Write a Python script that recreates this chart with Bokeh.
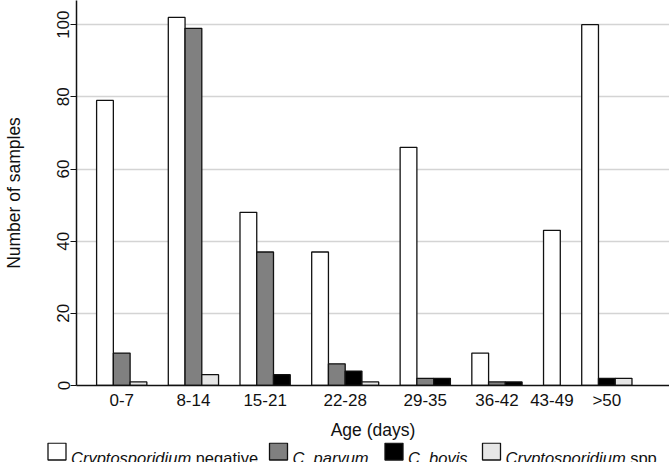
from bokeh.plotting import figure
from bokeh.models import Range1d, FixedTicker, ColumnDataSource
from bokeh.embed import file_html
from bokeh.resources import INLINE
from bokeh.core.properties import value

# ---- data ----
age_groups = ["0-7", "8-14", "15-21", "22-28", "29-35", "36-42", "43-49", ">50"]
crypto_negative = [79, 102, 48, 37, 66, 9, 43, 100]
c_parvum = [9, 99, 37, 6, 2, 1, 0, 0]
c_bovis = [0, 0, 3, 4, 2, 1, 0, 2]
crypto_spp = [1, 3, 0, 1, 0, 0, 0, 2]
y_ticks = [0, 20, 40, 60, 80, 100]
legend_italic = ["Cryptosporidium", "C. parvum", "C. bovis", "Cryptosporidium"]
legend_plain = ["negative", "", "", "spp."]

# ---- styles / layout ----
FONT = "Liberation Sans"
TXT = "#111111"
series_colors = ["#ffffff", "#808080", "#000000", "#e6e6e6"]
series_values = [crypto_negative, c_parvum, c_bovis, crypto_spp]
GROUP_GAP = 1.28  # gap between age groups, in bar widths

W = 669
H_MAIN, H_LEG = 442, 20
ROOT_GAP = 6      # inline gap the browser leaves between the two roots

# ---- bar layout: zero-count bars are omitted and the rest packed ----
lefts, rights, tops, fills = [], [], [], []
centers = []
cursor = 0.0
for gi in range(len(age_groups)):
    start = cursor
    for vals, col in zip(series_values, series_colors):
        v = vals[gi]
        if v > 0:
            lefts.append(cursor)
            rights.append(cursor + 1.0)
            tops.append(v)
            fills.append(col)
            cursor += 1.0
    centers.append(round((start + cursor) / 2.0, 4))
    cursor += GROUP_GAP

src = ColumnDataSource(dict(left=lefts, right=rights, top=tops,
                            bottom=[0] * len(tops), fill=fills))

p = figure(width=W, height=H_MAIN,
           x_range=Range1d(-1.2, 34.2), y_range=Range1d(0, 106.7),
           output_backend="svg", toolbar_location=None,
           min_border_left=73, min_border_right=0,
           min_border_top=0, min_border_bottom=55)
p.outline_line_color = None
p.background_fill_color = "white"
p.border_fill_color = "white"

p.quad(left="left", right="right", top="top", bottom="bottom", source=src,
       fill_color="fill", line_color="#111111", line_width=1.3)

p.xgrid.visible = False
p.ygrid.ticker = FixedTicker(ticks=y_ticks)
p.ygrid.grid_line_color = "#d4d4d4"
p.ygrid.grid_line_width = 1.5

# y axis
p.yaxis.ticker = FixedTicker(ticks=y_ticks)
p.yaxis.major_label_orientation = "vertical"
p.yaxis.major_tick_out = 6
p.yaxis.major_tick_in = 0
p.yaxis.minor_tick_out = 0
p.yaxis.minor_tick_in = 0
p.yaxis.major_label_standoff = 1
p.yaxis.axis_label = "Number of samples"
p.yaxis.axis_label_standoff = 31

# x axis
p.xaxis.ticker = FixedTicker(ticks=centers)
p.xaxis.major_label_overrides = {c: lab for c, lab in zip(centers, age_groups)}
p.xaxis.major_tick_out = 0
p.xaxis.major_tick_in = 0
p.xaxis.minor_tick_out = 0
p.xaxis.minor_tick_in = 0
p.xaxis.major_label_standoff = 5
p.xaxis.axis_label = "Age (days)"
p.xaxis.axis_label_standoff = 7

for ax in (p.xaxis[0], p.yaxis[0]):
    ax.axis_line_color = "#111111"
    ax.axis_line_width = 1.5
    ax.major_tick_line_color = "#111111"
    ax.major_tick_line_width = 1.2
    ax.major_label_text_font = FONT
    ax.major_label_text_font_size = "17px"
    ax.major_label_text_color = TXT
    ax.axis_label_text_font = FONT
    ax.axis_label_text_font_size = "17.5px"
    ax.axis_label_text_font_style = "normal"
    ax.axis_label_text_color = TXT

# ---- legend strip: a separate root below the chart, coordinates = page pixels ----
LEG_TOP = H_MAIN + ROOT_GAP
lg = figure(width=W, height=H_LEG,
            x_range=Range1d(0, W), y_range=Range1d(LEG_TOP + H_LEG, LEG_TOP),
            output_backend="svg", toolbar_location=None, min_border=0,
            min_border_left=0, min_border_right=0, min_border_top=0, min_border_bottom=0,
            x_axis_type=None, y_axis_type=None)
lg.outline_line_color = None
lg.background_fill_color = "white"
lg.border_fill_color = "white"

LEG_FS = 16.5
SW_X = [47.5, 269, 384.5, 482]   # swatch left edges, page px
SW_W = 18
SW_TOP, SW_BOT = 448.7, 465.5
BASELINE = 463
ITALIC_W = LEG_FS * 7.279        # width of "Cryptosporidium"
SPACE_W = LEG_FS * 0.278

lg.quad(left=SW_X, right=[x + SW_W for x in SW_X],
        bottom=[SW_BOT] * 4, top=[SW_TOP] * 4,
        fill_color=series_colors, line_color="#111111", line_width=1.3)

it_x = [x + SW_W + 5 for x in SW_X]
lg.text(x=it_x, y=[BASELINE] * 4, text=legend_italic, text_font=value(FONT),
        text_font_size=f"{LEG_FS}px", text_font_style="italic", text_color=TXT,
        text_baseline="alphabetic", text_align="left")
pl_idx = [i for i, t in enumerate(legend_plain) if t]
lg.text(x=[it_x[i] + ITALIC_W + SPACE_W for i in pl_idx], y=[BASELINE] * len(pl_idx),
        text=[legend_plain[i] for i in pl_idx], text_font=value(FONT),
        text_font_size=f"{LEG_FS}px", text_font_style="normal", text_color=TXT,
        text_baseline="alphabetic", text_align="left")

open("out.html", "w").write(file_html([p, lg], INLINE))
